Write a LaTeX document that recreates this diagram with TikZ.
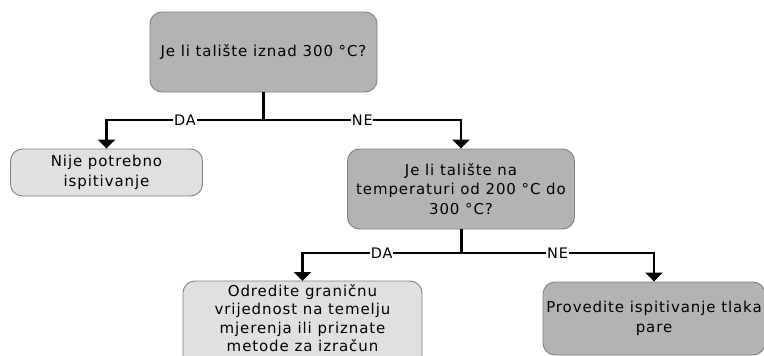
\documentclass[tikz,border=0pt]{standalone}
\usepackage{fontspec}
\setmainfont{DejaVu Sans}[LetterSpace=6]
\usetikzlibrary{arrows.meta}
\definecolor{darkbox}{RGB}{179,179,179}
\definecolor{lightbox}{RGB}{224,224,224}
\definecolor{boxline}{RGB}{128,128,128}
\tikzset{
  box/.style={draw=boxline, line width=0.9pt, rounded corners=12pt, align=center,
    font=\fontsize{15}{19.5}\selectfont, inner sep=0pt},
  question/.style={box, fill=darkbox},
  answer/.style={box, fill=lightbox},
  stem/.style={line width=3pt},
  conn/.style={line width=2.4pt, -{Triangle[width=17pt,length=9pt]}},
  lbl/.style={fill=white, inner sep=0.8pt, font=\fontsize{14.5}{16}\selectfont}
}
\begin{document}
\begin{tikzpicture}[x=1pt,y=-1pt]
\useasboundingbox (0,0) rectangle (764,356);
\clip (0,0) rectangle (764,356);

% decision boxes and outcomes
\node[question, minimum width=227pt, minimum height=80pt] (b1) at (263.5,52)
  {Je li talište iznad 300 °C?};
\node[answer, minimum width=192pt, minimum height=47pt] (b2) at (106.5,172.5)
  {Nije potrebno\\ispitivanje};
\node[question, minimum width=227pt, minimum height=80pt] (b3) at (461,189)
  {Je li talište na\\temperaturi od 200 °C do\\300 °C?};
% the lower boxes run on past the bottom edge
\draw[draw=boxline, fill=lightbox, line width=0.9pt, rounded corners=12pt]
  (183,281) rectangle (422,372);
\node[align=center, inner sep=0pt, font=\fontsize{15}{18.5}\selectfont]
  (b4) at (302.5,318) {Odredite graničnu\\vrijednost na temelju\\mjerenja ili priznate\\metode za izračun};
\coordinate (b4top) at (302.5,281);
\node[question, minimum width=222pt, minimum height=73pt] (b5) at (654,318.5)
  {Provedite ispitivanje tlaka\\pare};

% branch points
\coordinate (j1) at (263.5,120);
\coordinate (j2) at (461,253);

% first decision
\draw[stem] (b1.south) -- (j1);
\draw[conn] (j1) -| node[lbl, pos=0.25] {DA} (b2.north);
\draw[conn] (j1) -| node[lbl, pos=0.25] {NE} (b3.north);

% second decision
\draw[stem] (b3.south) -- (j2);
\draw[conn] (j2) -| node[lbl, pos=0.25] {DA} (b4top);
\draw[conn] (j2) -| node[lbl, pos=0.25] {NE} (b5.north);
\end{tikzpicture}
\end{document}
